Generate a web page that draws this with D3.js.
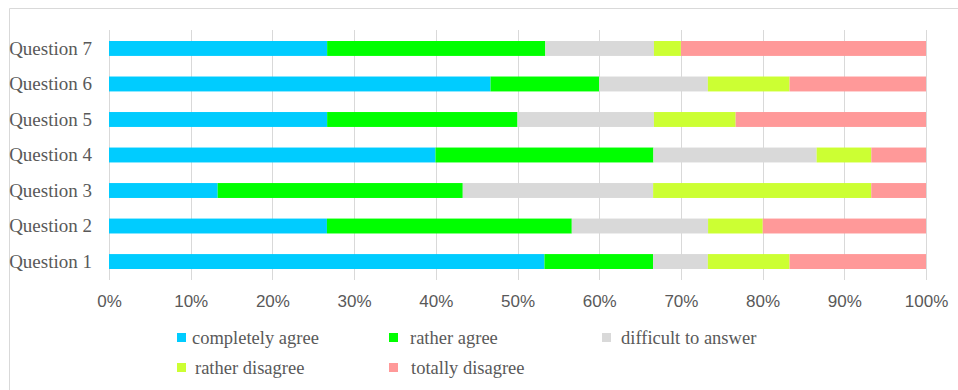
<!DOCTYPE html>
<html>
<head>
<meta charset="utf-8">
<script src="https://cdn.jsdelivr.net/npm/d3@7"></script>
<style>
  body { margin: 0; background: #fff; }
  .serif { font-family: "Liberation Serif", "Times New Roman", Times, serif; }
</style>
</head>
<body>
<script>
const questions = ['Question 1', 'Question 2', 'Question 3', 'Question 4', 'Question 5', 'Question 6', 'Question 7'];
const seriesNames = ['completely agree', 'rather agree', 'difficult to answer', 'rather disagree', 'totally disagree'];
const colors = ['#00CCFF', '#00FF00', '#D9D9D9', '#CCFF33', '#FF9999'];

// shares per question (Question 1 .. Question 7), in %
const completelyAgree = [53.3, 26.7, 13.3, 40.0, 26.7, 46.7, 26.7];
const ratherAgree     = [13.3, 30.0, 30.0, 26.7, 23.3, 13.3, 26.7];
const difficult       = [ 6.7, 16.7, 23.3, 20.0, 16.7, 13.3, 13.3];
const ratherDisagree  = [10.0,  6.7, 26.7,  6.7, 10.0, 10.0,  3.3];
const totallyDisagree = [16.7, 20.0,  6.7,  6.7, 23.3, 16.7, 30.0];
const tickValues = [0, 0.1, 0.2, 0.3, 0.4, 0.5, 0.6, 0.7, 0.8, 0.9, 1];

const allSeries = [completelyAgree, ratherAgree, difficult, ratherDisagree, totallyDisagree];
const rows = questions.map((q, i) => {
  const r = { q };
  seriesNames.forEach((s, j) => r[s] = allSeries[j][i]);
  return r;
});

const width = 958, height = 390;
const margin = { left: 109, right: 32, top: 30, bottom: 110 };

const svg = d3.select('body').append('svg')
  .attr('width', width)
  .attr('height', height);

// frame
svg.append('path')
  .attr('d', `M9.5,${height} V8.5 H${width}`)
  .attr('fill', 'none')
  .attr('stroke', '#d9d9d9')
  .attr('stroke-width', 1);

const x = d3.scaleLinear()
  .domain([0, 1])
  .range([margin.left, width - margin.right]);

const y = d3.scaleBand()
  .domain(questions.slice().reverse())
  .range([margin.top, height - margin.bottom])
  .paddingInner(0.58)
  .paddingOuter(0.31);

// gridlines
svg.append('g')
  .selectAll('line')
  .data(tickValues)
  .join('line')
  .attr('x1', d => Math.round(x(d)) + 0.5)
  .attr('x2', d => Math.round(x(d)) + 0.5)
  .attr('y1', margin.top)
  .attr('y2', height - margin.bottom)
  .attr('stroke', '#d9d9d9');

const stack = d3.stack().keys(seriesNames);
const stacked = stack(rows);
const total = d => d3.sum(seriesNames, s => d.data[s]);

svg.append('g')
  .selectAll('g')
  .data(stacked)
  .join('g')
  .attr('fill', (d, i) => colors[i])
  .selectAll('rect')
  .data(d => d)
  .join('rect')
  .attr('x', d => x(d[0] / total(d)))
  .attr('width', d => x(d[1] / total(d)) - x(d[0] / total(d)))
  .attr('y', d => y(d.data.q))
  .attr('height', y.bandwidth());

// x axis
const xAxis = d3.axisBottom(x)
  .tickValues(tickValues)
  .tickFormat(d3.format('.0%'))
  .tickSize(0)
  .tickPadding(15);

svg.append('g')
  .attr('transform', `translate(0, ${height - margin.bottom})`)
  .call(xAxis)
  .call(g => g.select('.domain').remove())
  .selectAll('text')
  .style('font-family', '"Liberation Sans", Arial, sans-serif')
  .style('font-size', '17px')
  .attr('fill', '#595959');

// y axis
const yAxis = d3.axisLeft(y).tickSize(0).tickPadding(17);
svg.append('g')
  .attr('transform', `translate(${margin.left}, 0)`)
  .call(yAxis)
  .call(g => g.select('.domain').remove())
  .selectAll('text')
  .attr('class', 'serif')
  .attr('font-family', null)
  .style('font-size', '19px')
  .attr('fill', '#595959');

// legend: square x, text x, row baseline
const legendPos = [[177, 192, 344], [389, 410, 344], [602, 621, 344], [177, 195, 374], [389, 411, 374]];
const legend = svg.append('g')
  .selectAll('g')
  .data(seriesNames)
  .join('g');

legend.append('rect')
  .attr('x', (d, i) => legendPos[i][0])
  .attr('y', (d, i) => legendPos[i][2] - 11)
  .attr('width', 9)
  .attr('height', 9)
  .attr('fill', (d, i) => colors[i]);

legend.append('text')
  .attr('class', 'serif')
  .attr('x', (d, i) => legendPos[i][1])
  .attr('y', (d, i) => legendPos[i][2])
  .style('font-size', '18.5px')
  .attr('fill', '#595959')
  .text(d => d);
</script>
</body>
</html>
